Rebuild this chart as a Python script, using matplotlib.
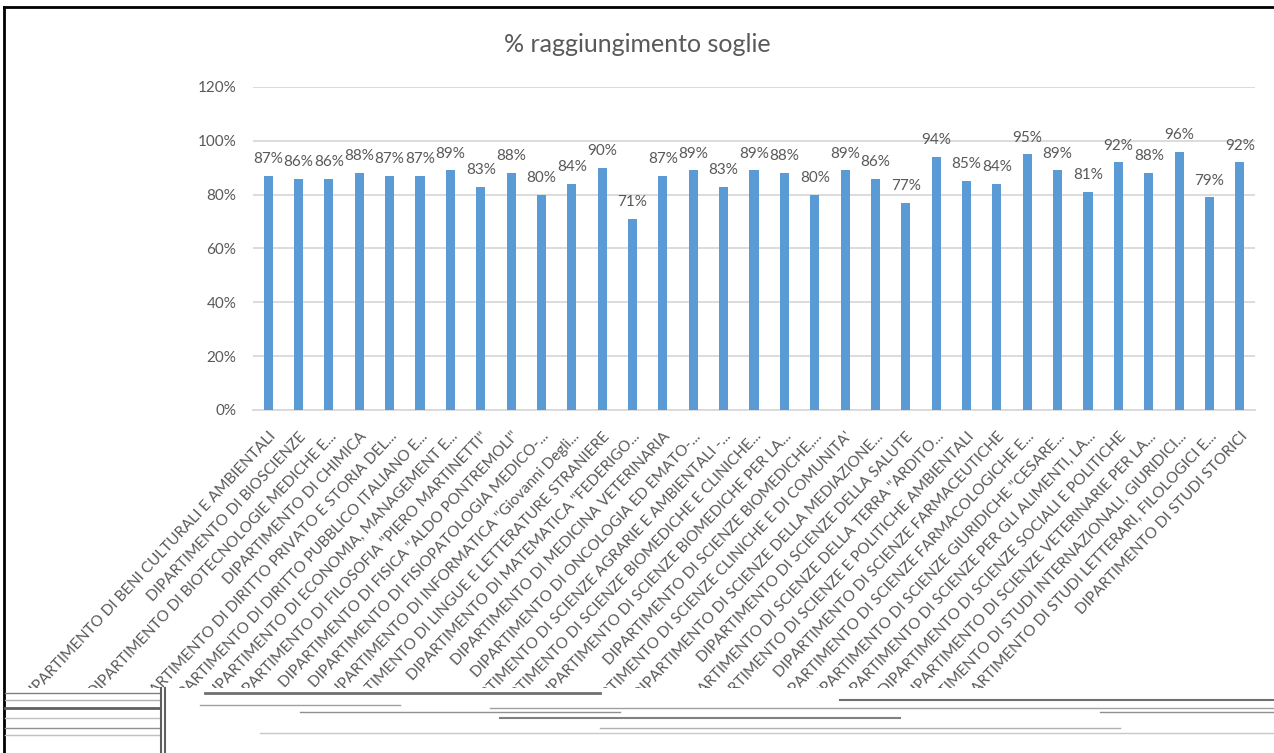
import matplotlib
matplotlib.use('Agg')
from matplotlib import pyplot as plt
from matplotlib.lines import Line2D
from matplotlib.patches import Rectangle
import numpy as np

TITLE = '% raggiungimento soglie'

dipartimenti = [
    'DIPARTIMENTO DI BENI CULTURALI E AMBIENTALI',
    'DIPARTIMENTO DI BIOSCIENZE',
    'DIPARTIMENTO DI BIOTECNOLOGIE MEDICHE E...',
    'DIPARTIMENTO DI CHIMICA',
    'DIPARTIMENTO DI DIRITTO PRIVATO E STORIA DEL...',
    'DIPARTIMENTO DI DIRITTO PUBBLICO ITALIANO E...',
    'DIPARTIMENTO DI ECONOMIA, MANAGEMENT E...',
    'DIPARTIMENTO DI FILOSOFIA "PIERO MARTINETTI"',
    'DIPARTIMENTO DI FISICA "ALDO PONTREMOLI"',
    'DIPARTIMENTO DI FISIOPATOLOGIA MEDICO-...',
    'DIPARTIMENTO DI INFORMATICA "Giovanni Degli...',
    'DIPARTIMENTO DI LINGUE E LETTERATURE STRANIERE',
    'DIPARTIMENTO DI MATEMATICA "FEDERIGO...',
    'DIPARTIMENTO DI MEDICINA VETERINARIA',
    'DIPARTIMENTO DI ONCOLOGIA ED EMATO-...',
    'DIPARTIMENTO DI SCIENZE AGRARIE E AMBIENTALI -...',
    'DIPARTIMENTO DI SCIENZE BIOMEDICHE E CLINICHE...',
    'DIPARTIMENTO DI SCIENZE BIOMEDICHE PER LA...',
    'DIPARTIMENTO DI SCIENZE BIOMEDICHE,...',
    "DIPARTIMENTO DI SCIENZE CLINICHE E DI COMUNITA'",
    'DIPARTIMENTO DI SCIENZE DELLA MEDIAZIONE...',
    'DIPARTIMENTO DI SCIENZE DELLA SALUTE',
    'DIPARTIMENTO DI SCIENZE DELLA TERRA "ARDITO...',
    'DIPARTIMENTO DI SCIENZE E POLITICHE AMBIENTALI',
    'DIPARTIMENTO DI SCIENZE FARMACEUTICHE',
    'DIPARTIMENTO DI SCIENZE FARMACOLOGICHE E...',
    'DIPARTIMENTO DI SCIENZE GIURIDICHE "CESARE...',
    'DIPARTIMENTO DI SCIENZE PER GLI ALIMENTI, LA...',
    'DIPARTIMENTO DI SCIENZE SOCIALI E POLITICHE',
    'DIPARTIMENTO DI SCIENZE VETERINARIE PER LA...',
    'DIPARTIMENTO DI STUDI INTERNAZIONALI, GIURIDICI...',
    'DIPARTIMENTO DI STUDI LETTERARI, FILOLOGICI E...',
    'DIPARTIMENTO DI STUDI STORICI',
]

raggiungimento = [87, 86, 86, 88, 87, 87, 89, 83, 88, 80, 84, 90, 71, 87, 89, 83, 89,
                  88, 80, 89, 86, 77, 94, 85, 84, 95, 89, 81, 92, 88, 96, 79, 92]

y_ticks = [0, 20, 40, 60, 80, 100, 120]

BLUE = '#5B9BD5'
GREY_TEXT = '#595959'
GRID = '#D9D9D9'

plt.rcParams['font.family'] = ['Lato', 'DejaVu Sans']

W, H = 1274, 753
fig = plt.figure(figsize=(W / 100, H / 100), dpi=100)
ax = fig.add_axes([253 / W, 1 - 410 / H, (1255 - 253) / W, (410 - 87) / H])

vals = np.array(raggiungimento) / 100.0
x = np.arange(len(vals))
ax.bar(x, vals, width=0.3, color=BLUE, zorder=3)

for xi, v in zip(x, vals):
    ax.annotate(f'{v:.0%}', (xi, v), xytext=(0, 7), textcoords='offset points',
                ha='center', va='bottom', fontsize=11, color=GREY_TEXT)

ax.set_xlim(-0.5, len(vals) - 0.5)
ax.set_ylim(0, 1.2)
ax.set_yticks([t / 100 for t in y_ticks])
ax.set_yticklabels([f'{t}%' for t in y_ticks])
ax.grid(axis='y', color=GRID, linewidth=1.3, zorder=0)
ax.set_xticks(x)
ax.set_xticklabels(dipartimenti, rotation=47, ha='right', rotation_mode='anchor')
ax.tick_params(axis='both', length=0, colors=GREY_TEXT, labelsize=11)
ax.tick_params(axis='x', labelsize=11, pad=14)
ax.tick_params(axis='y', pad=12)
for side in ['top', 'right', 'left']:
    ax.spines[side].set_visible(False)
ax.spines['bottom'].set_color(GRID)
ax.spines['bottom'].set_linewidth(1.3)

fig.text(0.5, 1 - 44 / H, TITLE, ha='center', va='center',
         fontsize=18, color=GREY_TEXT)


def px(xp, yp):
    return xp / W, 1 - yp / H


# frame of the screenshot
fig.add_artist(Line2D(*zip(px(4, 7), px(W, 7)), color='black', linewidth=2))
fig.add_artist(Line2D(*zip(px(4, 7), px(4, H)), color='black', linewidth=2))

# the garbled strip at the bottom of the screenshot
fig.add_artist(Rectangle(px(6, H), (W - 6) / W, (H - 688) / H, transform=fig.transFigure,
                         facecolor='white', edgecolor='none', zorder=5))
for yy, x0, x1, c, lw in [(693, 5, 160, '#808080', 1), (700, 5, 160, '#b0b0b0', 1),
                          (708, 5, 160, '#606060', 2), (718, 5, 160, '#c0c0c0', 1),
                          (728, 5, 160, '#909090', 1), (735, 5, 160, '#c0c0c0', 1),
                          (693, 205, 600, '#707070', 2), (705, 200, 400, '#a0a0a0', 1),
                          (712, 300, 620, '#909090', 1), (708, 490, 1274, '#a0a0a0', 1),
                          (718, 500, 900, '#808080', 1.5), (728, 600, 1120, '#b0b0b0', 1),
                          (733, 260, 1274, '#c8c8c8', 1), (700, 840, 1274, '#707070', 1.5),
                          (712, 1100, 1274, '#909090', 1)]:
    fig.add_artist(Line2D(*zip(px(x0, yy), px(x1, yy)), color=c, linewidth=lw, zorder=6))
for xx in [161, 165]:
    fig.add_artist(Line2D(*zip(px(xx, 688), px(xx, H)), color='#606060', linewidth=1.5,
                          zorder=6))

fig.savefig('out.png', dpi=100)
